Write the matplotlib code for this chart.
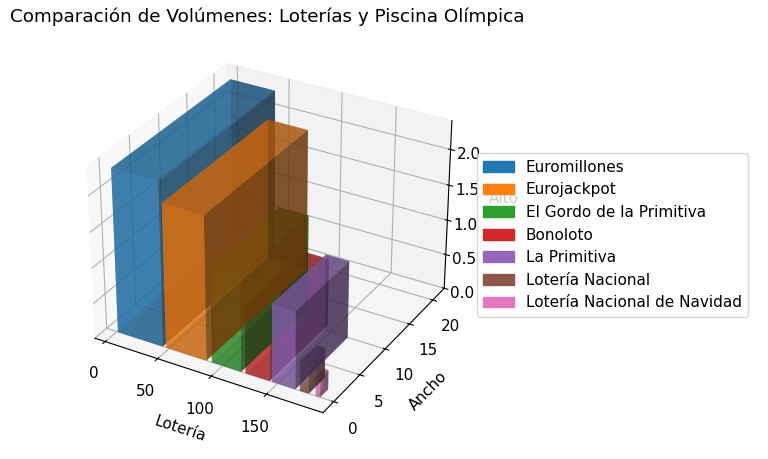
import matplotlib
matplotlib.use("Agg")
import matplotlib.pyplot as plt
from matplotlib.patches import Patch

plt.rcParams["font.size"] = 11

nombres = ["Euromillones", "Eurojackpot", "El Gordo de la Primitiva", "Bonoloto",
           "La Primitiva", "Lotería Nacional", "Lotería Nacional de Navidad"]
colores = ["tab:blue", "tab:orange", "tab:green", "tab:red", "tab:purple", "tab:brown", "tab:pink"]
# posicion de inicio, largo, ancho y alto de cada loteria
x_ini = [1, 47, 90, 121, 145, 170, 184]
largos = [43, 38, 27, 22, 21, 8, 4]
anchos = [21, 19, 12.5, 11, 10, 3, 1.5]
altos = [2.3, 2.02, 1.35, 0.95, 1.09, 0.42, 0.27]

fig = plt.figure(figsize=(7.68, 4.59), dpi=100)
ax = fig.add_subplot(111, projection="3d")

for i in range(len(nombres)):
    ax.bar3d(x_ini[i], 0, 0, largos[i], anchos[i], altos[i], color=colores[i], alpha=0.6)

ax.set_xlim(-10, 200)
ax.set_ylim(-2, 22.5)
ax.set_zlim(0, 2.4)
ax.set_xlabel("Lotería", labelpad=7)
ax.set_ylabel("Ancho", labelpad=7)
ax.set_zlabel("Alto")
ax.set_xticks([0, 50, 100, 150])
ax.set_yticks([0, 5, 10, 15, 20])
ax.set_zticks([0, 0.5, 1.0, 1.5, 2.0])
ax.tick_params(axis="z", pad=0)
ax.tick_params(axis="x", pad=5)
ax.tick_params(axis="y", pad=4.5)
fig.text(10 / 768, 1 - 17 / 459, "Comparación de Volúmenes: Loterías y Piscina Olímpica",
         fontsize=13.2, ha="left", va="center")

handles = [Patch(color=colores[i], label=nombres[i]) for i in range(len(nombres))]
leg = fig.legend(handles=handles, loc="center left", bbox_to_anchor=(477 / 768, 1 - 235 / 459),
                 borderaxespad=0)
leg.set_zorder(10)

fig.subplots_adjust(left=-0.012, right=0.708, top=0.93, bottom=0.045)
fig.savefig("out.png", dpi=100)
